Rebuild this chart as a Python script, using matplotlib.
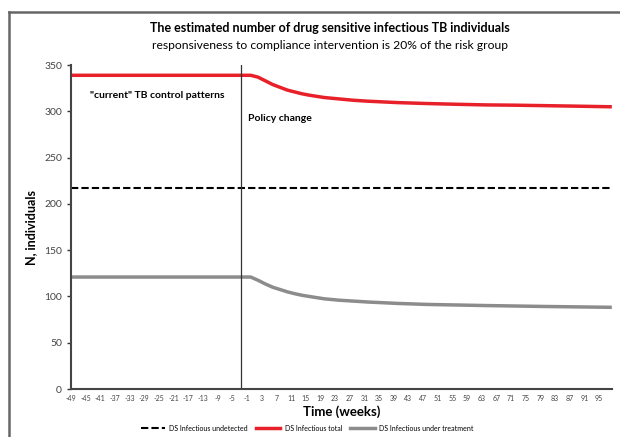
import matplotlib
matplotlib.use("Agg")
import matplotlib.pyplot as plt
from matplotlib.lines import Line2D
import numpy as np

plt.rcParams['font.family'] = ['Lato', 'DejaVu Sans']

# weeks relative to the policy change
weeks = [-49, -1, 0, 2, 4, 6, 8, 10, 12, 14, 16, 20, 24, 28, 32, 40, 48, 56, 64, 72, 80, 88, 98]
ds_total = [339, 339, 339, 337, 333, 329, 326, 323, 321, 319, 317.5, 315, 313.5, 312, 311,
            309.5, 308.5, 307.7, 307, 306.7, 306.2, 305.7, 305]
ds_treatment = [121, 121, 121, 117.5, 113.5, 110, 107.5, 105, 103, 101.3, 100, 97.5, 96, 95, 94,
                92.5, 91.4, 90.8, 90.2, 89.7, 89.2, 88.8, 88.3]
ds_undetected = [217, 217]
undetected_weeks = [-49, 98.5]
policy_week = -2.6
tick_weeks = list(range(-49, 96, 4))

fig = plt.figure(figsize=(6.2, 4.37), dpi=100)
ax = fig.add_axes([0.1145, 0.1098, 0.8725, 0.7412])

ax.plot(undetected_weeks, ds_undetected, color='black', lw=1.5, ls=(0, (3.5, 1.5)),
        label='DS Infectious undetected')
ax.plot(weeks, ds_total, color='#e8202a', lw=2.5, label='DS Infectious total')
ax.plot(weeks, ds_treatment, color='#8c8c8c', lw=2.5, label='DS Infectious under treatment')
ax.axvline(policy_week, color='#333333', lw=0.9)

ax.set_xlim(-49, 98.5)
ax.set_ylim(0, 350)
ax.set_yticks(range(0, 351, 50))
ax.set_xticks(tick_weeks)
ax.set_xticklabels([str(w) for w in tick_weeks], fontsize=5, color='#444444')
ax.tick_params(axis='x', length=0, pad=4)
ax.tick_params(axis='y', labelsize=7.5, labelcolor='#444444', length=3, width=1, color='#333333')
for s in ['top', 'right']:
    ax.spines[s].set_visible(False)
for s in ['left', 'bottom']:
    ax.spines[s].set_color('#444444')
    ax.spines[s].set_linewidth(1.5)

ax.set_ylabel('N, individuals', fontsize=9, fontweight='bold', labelpad=5)
ax.set_xlabel('Time (weeks)', fontsize=9.5, fontweight='bold', labelpad=3)

ax.text(-25.5, 317, '"current" TB control patterns', fontsize=7.5, fontweight='bold',
        ha='center', va='center')
ax.text(-0.8, 292, 'Policy change', fontsize=7.5, fontweight='bold', ha='left', va='center')

fig.text(0.532, 0.937, 'The estimated number of drug sensitive infectious TB individuals',
         fontsize=9, fontweight='bold', ha='center', va='center')
fig.text(0.532, 0.896, 'responsiveness to compliance intervention is 20% of the risk group',
         fontsize=8.7, ha='center', va='center')

fig.legend(loc='center', bbox_to_anchor=(0.495, 0.02), ncol=3, frameon=False,
           fontsize=5, handlelength=3.5, columnspacing=1.2, handletextpad=0.6)

# frame lines at top and left
fig.add_artist(Line2D([9 / 620, 9 / 620], [0, 1 - 12 / 437], transform=fig.transFigure,
                      color='#666666', lw=1.8))
fig.add_artist(Line2D([9 / 620, 1], [1 - 12 / 437, 1 - 12 / 437], transform=fig.transFigure,
                      color='#666666', lw=1.8))

fig.savefig('out.png', dpi=100)
